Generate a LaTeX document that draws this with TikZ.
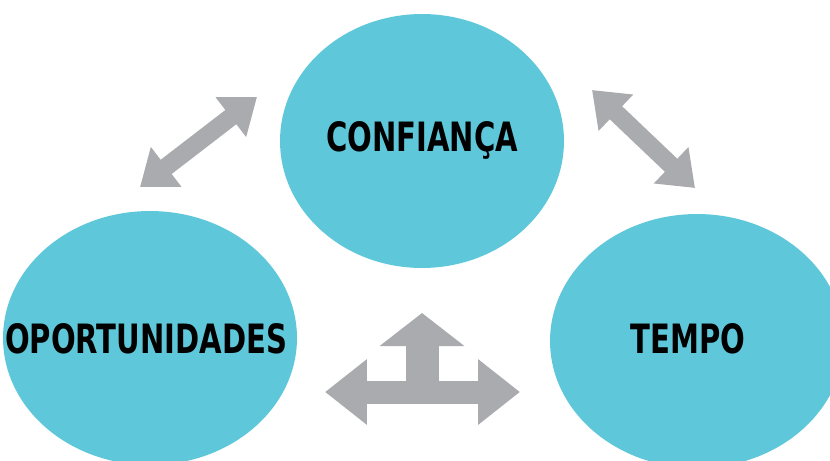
\documentclass[tikz,border=0pt]{standalone}
\usepackage{fontspec}
\usepackage{xcolor}
\usetikzlibrary{shapes.geometric,arrows.meta}
\newfontfamily\labelfont{DejaVu Sans Condensed}
\definecolor{bubblecyan}{HTML}{5EC8DA}
\definecolor{arrowgray}{HTML}{AAABAE}
\newcommand{\squash}[1]{\scalebox{0.8}[1]{#1}}

\begin{document}
\begin{tikzpicture}[x=0.02cm, y=-0.02cm,
    bubble/.style={ellipse, fill=bubblecyan, inner sep=0pt, minimum height=5.08cm},
    word/.style={inner sep=0pt, font=\labelfont\bfseries\fontsize{23}{23}\selectfont},
    link/.style={draw=arrowgray, line width=0.36cm,
        {Triangle[width=0.96cm,length=0.66cm]}-{Triangle[width=0.96cm,length=0.66cm]}}]
    \clip (0, 0) rectangle (830, 460);

    \node[bubble, minimum width=5.68cm] (confianca) at (422, 141) {};
    \node[bubble, minimum width=5.88cm] (oportunidades) at (150, 338) {};
    \node[bubble, minimum width=5.88cm] (tempo) at (697, 341) {};

    \node[word] (confiancatext) at (422, 140) {\squash{CONFIANÇA}};
    \node[word] (oportunidadestext) at (146, 339) {\squash{OPORTUNIDADES}};
    \node[word] (tempotext) at (688, 339) {\squash{TEMPO}};

    \coordinate (lefta) at (140, 187);
    \coordinate (leftb) at (257, 97);
    \coordinate (righta) at (592, 90);
    \coordinate (rightb) at (695, 188);
    \coordinate (hleft) at (325, 392);
    \coordinate (hright) at (520, 392);
    \coordinate (vbase) at (422, 392);
    \coordinate (vtop) at (422, 313);

    \draw[link] (lefta) -- (leftb);
    \draw[link] (righta) -- (rightb);

    \draw[link, line width=0.46cm,
        {Triangle[width=1.26cm,length=0.84cm]}-{Triangle[width=1.26cm,length=0.84cm]}] (hleft) -- (hright);
    \draw[draw=arrowgray, line width=0.66cm,
        -{Triangle[width=1.66cm,length=0.66cm]}] (vbase) -- (vtop);
\end{tikzpicture}
\end{document}
